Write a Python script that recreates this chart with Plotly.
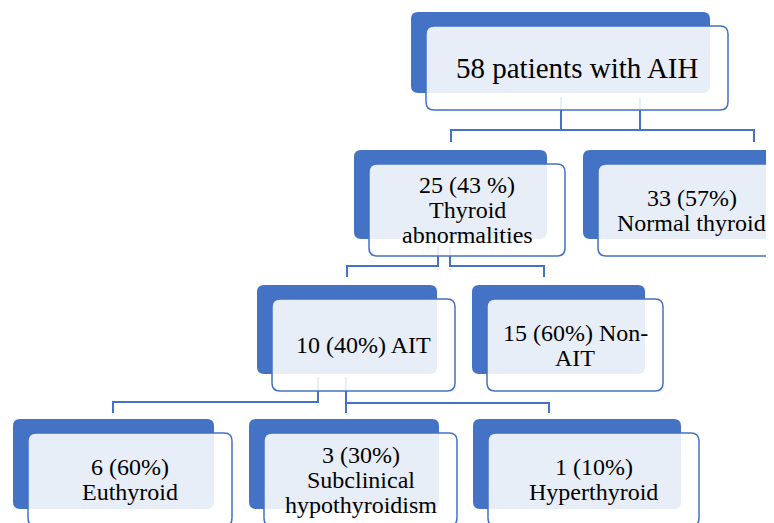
import plotly.graph_objects as go

# ---- data: node texts (one list of lines per node) and tree structure ----
node_lines = [
    ["58 patients with AIH"],
    ["25 (43 %)", "Thyroid", "abnormalities"],
    ["33 (57%)", "Normal thyroid"],
    ["10 (40%) AIT"],
    ["15 (60%) Non-", "AIT"],
    ["6 (60%)", "Euthyroid"],
    ["3 (30%)", "Subclinical", "hypothyroidism"],
    ["1 (10%)", "Hyperthyroid"],
]
node_parent = [None, 0, 0, 1, 1, 3, 3, 3]

# ---- layout (pixel space of the 774x523 window) ----
W, H = 774, 523
PAGE_MARGIN = 8  # default body margin of the html page
back_boxes = [
    (411, 12, 710, 93),
    (354, 150, 547, 239),
    (583, 150, 773, 239),
    (257, 285, 437, 374),
    (472, 285, 645, 374),
    (13, 419, 214, 509),
    (249, 419, 439, 509),
    (473, 419, 681, 509),
]
text_dx = [0, 0, -3, 0, 0, 0, 0, 0]
front_off = (15, 14, 18, 17)
# elbow connectors: (drop x, start y, bar y, child x, end y)
connectors = [
    (640, 97, 130, 451, 142),
    (561, 97, 130, 754, 142),
    (438, 247, 266, 347, 277),
    (450, 247, 266, 544, 277),
    (318, 377, 402, 113, 413),
    (346, 377, 403, 346, 413),
    (346, 377, 403, 549, 413),
]
BLUE = "#4472C4"
FONT = "Liberation Serif"


def rrect(x0, y0, x1, y1, r):
    return (f"M{x0+r},{y0} L{x1-r},{y0} Q{x1},{y0} {x1},{y0+r} "
            f"L{x1},{y1-r} Q{x1},{y1} {x1-r},{y1} L{x0+r},{y1} "
            f"Q{x0},{y1} {x0},{y1-r} L{x0},{y0+r} Q{x0},{y0} {x0+r},{y0} Z")


shapes = []
for (x0, y0, x1, y1) in back_boxes:
    shapes.append(dict(type="path", path=rrect(x0, y0, x1, y1, 7),
                       fillcolor=BLUE, line=dict(width=0), xref="x", yref="y"))
for (px, ys, yb, cx, ye) in connectors:
    shapes.append(dict(type="path", path=f"M{px},{ys} L{px},{yb} L{cx},{yb} L{cx},{ye}",
                       line=dict(color=BLUE, width=2), xref="x", yref="y"))

annotations = []
for i, (x0, y0, x1, y1) in enumerate(back_boxes):
    fx0, fy0 = x0 + front_off[0], y0 + front_off[1]
    fx1, fy1 = x1 + front_off[2], y1 + front_off[3]
    shapes.append(dict(type="path", path=rrect(fx0, fy0, fx1, fy1, 8),
                       fillcolor="rgba(255,255,255,0.88)",
                       line=dict(color=BLUE, width=1.5), xref="x", yref="y"))
    lines = node_lines[i]
    size = 29 if node_parent[i] is None else 24
    cx = (fx0 + fx1) / 2 + text_dx[i]
    cy = (fy0 + fy1) / 2
    sp = 25
    n = len(lines)
    for k, t in enumerate(lines):
        annotations.append(dict(
            x=cx, y=cy + (k - (n - 1) / 2) * sp, xref="x", yref="y",
            text=t, showarrow=False, xanchor="center", yanchor="middle",
            font=dict(family=FONT, size=size, color="black")))

fig = go.Figure()
fig.update_layout(
    width=W - PAGE_MARGIN, height=H - PAGE_MARGIN,
    margin=dict(l=0, r=0, t=0, b=0),
    paper_bgcolor="white", plot_bgcolor="white",
    xaxis=dict(range=[PAGE_MARGIN, W], visible=False, fixedrange=True),
    yaxis=dict(range=[H, PAGE_MARGIN], visible=False, fixedrange=True),
    shapes=shapes, annotations=annotations, showlegend=False,
)
fig.write_html("out.html")
